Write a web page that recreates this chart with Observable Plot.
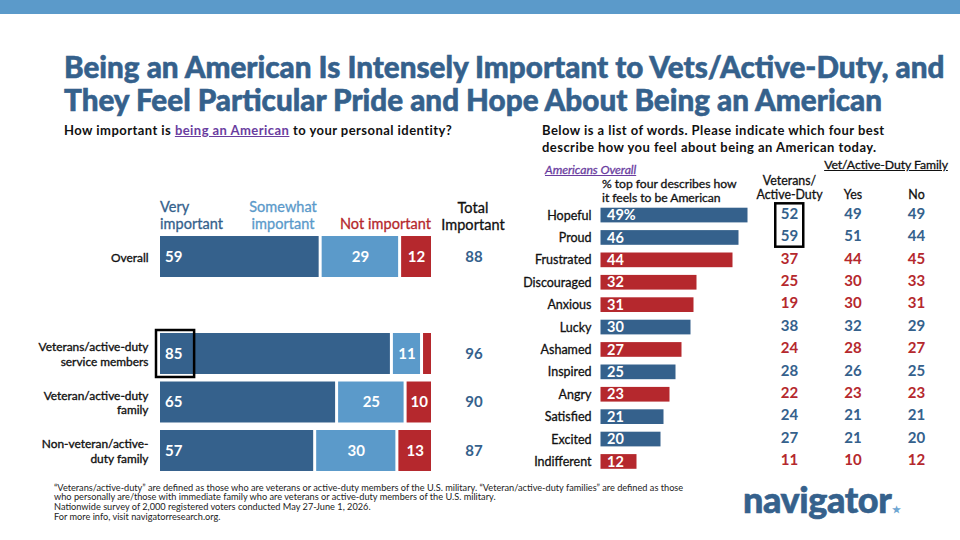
<!DOCTYPE html>
<html>
<head>
<meta charset="utf-8">
<script src="https://cdn.jsdelivr.net/npm/d3@7"></script>
<script src="https://cdn.jsdelivr.net/npm/@observablehq/plot@0.6"></script>
<style>
  html, body { margin: 0; padding: 0; width: 960px; height: 540px; background: #fff; overflow: hidden; font-family: Lato, sans-serif; }
  .a { position: absolute; white-space: nowrap; }
  .c { transform: translateX(-50%); text-align: center; }
  #bar { left: 0; top: 0; width: 960px; height: 14px; background: #5b9aca; }
  #title { left: 64px; top: 49.5px; font-size: 29.65px; line-height: 33.5px; font-weight: 900; color: #35618c; -webkit-text-stroke: .55px #35618c; }
  .q { font-size: 13px; line-height: 17px; font-weight: 700; color: #111; letter-spacing: .45px; }
  .q u { color: #6a3d9f; }
  .h { font-size: 14.5px; line-height: 17px; font-weight: 400; letter-spacing: .05px; -webkit-text-stroke: .3px; }
  .s { font-size: 12.2px; line-height: 13.5px; font-weight: 400; color: #111; letter-spacing: -.05px; -webkit-text-stroke: .3px; }
  #foot { left: 54px; top: 482.5px; font-size: 9.2px; line-height: 9.8px; color: #222; }
  #logo { left: 743px; top: 475px; font-size: 36px; line-height: 48px; font-weight: 900; color: #35618c; letter-spacing: -.4px; -webkit-text-stroke: .6px #35618c; }
  #logo span { color: #6fa6d2; font-size: 9.5px; vertical-align: 0px; margin-left: 1px; -webkit-text-stroke: 0; }
  svg { position: absolute; }
  .tbl [aria-label="x-axis tick label"] { stroke: #111; stroke-width: .3px; }
</style>
</head>
<body>
<div id="bar" class="a"></div>
<div id="title" class="a">Being an American Is Intensely Important to Vets/Active-Duty, and<br>They Feel Particular Pride and Hope About Being an American</div>
<div class="a q" style="left:64px;top:122px">How important is <u>being an American</u> to your personal identity?</div>
<div class="a q" style="left:542px;top:122px">Below is a list of words. Please indicate which four best<br>describe how you feel about being an American today.</div>

<div class="a h" style="left:160px;top:198px;color:#35618c">Very<br>important</div>
<div class="a h c" style="left:283px;top:198px;color:#5b9aca">Somewhat<br>important</div>
<div class="a h c" style="left:385.5px;top:215px;color:#b5282d">Not important</div>
<div class="a h c" style="left:473px;top:199px;color:#111">Total<br>Important</div>

<div class="a s" style="left:545px;top:163px;color:#6a3d9f;font-style:italic;text-decoration:underline">Americans Overall</div>
<div class="a s" style="left:602px;top:177px">% top four describes how<br>it feels to be American</div>
<div class="a s c" style="left:886px;top:158px;text-decoration:underline">Vet/Active-Duty Family</div>

<div id="foot" class="a">“Veterans/active-duty” are defined as those who are veterans or active-duty members of the U.S. military. “Veteran/active-duty families” are defined as those<br>who personally are/those with immediate family who are veterans or active-duty members of the U.S. military.<br>Nationwide survey of 2,000 registered voters conducted May 27-June 1, 2026.<br>For more info, visit navigatorresearch.org.</div>
<div id="logo" class="a">navigator<span>★</span></div>

<script>
// ---------- Left chart: importance of being an American ----------
const groups = ["Overall", "gap", "Veterans/active-duty\nservice members", "Veteran/active-duty\nfamily", "Non-veteran/active-\nduty family"];
const shownGroups = ["Overall", "Veterans/active-duty\nservice members", "Veteran/active-duty\nfamily", "Non-veteran/active-\nduty family"];
const veryImportant = [59, 85, 65, 57];
const somewhatImportant = [29, 11, 25, 30];
const notImportant = [12, 4, 10, 13];
const notImportantLabels = ["12", "", "10", "13"];
const totalImportant = [88, 96, 90, 87];
const segments = ["Very important", "Somewhat important", "Not important"];
const segmentColors = ["#35618c", "#5b9aca", "#b5282d"];

// ---------- Right chart: words that describe being an American ----------
const words = ["Hopeful", "Proud", "Frustrated", "Discouraged", "Anxious", "Lucky", "Ashamed", "Inspired", "Angry", "Satisfied", "Excited", "Indifferent"];
const americansOverall = [49, 46, 44, 32, 31, 30, 27, 25, 23, 21, 20, 12];
const overallLabels = ["49%", "46", "44", "32", "31", "30", "27", "25", "23", "21", "20", "12"];
const veteransActiveDuty = [52, 59, 37, 25, 19, 38, 24, 28, 22, 24, 27, 11];
const familyYes = [49, 51, 44, 30, 30, 32, 28, 26, 23, 21, 21, 10];
const familyNo = [49, 44, 45, 33, 31, 29, 27, 25, 23, 21, 20, 12];
const wordTone = ["positive", "positive", "negative", "negative", "negative", "positive", "negative", "positive", "negative", "positive", "positive", "negative"];
const columns = ["Veterans/\nActive-Duty", "Yes", "No"];

const stacked = shownGroups.flatMap((group, i) => [
  {group, segment: segments[0], value: veryImportant[i], label: ""},
  {group, segment: segments[1], value: somewhatImportant[i], label: String(somewhatImportant[i])},
  {group, segment: segments[2], value: notImportant[i], label: notImportantLabels[i]}
]);
const rows = shownGroups.map((group, i) => ({group, very: veryImportant[i], total: totalImportant[i]}));
const wordRows = words.map((word, i) => ({word, value: americansOverall[i], label: overallLabels[i], tone: wordTone[i]}));
const tableRows = words.flatMap((word, i) => [
  {word, column: columns[0], value: veteransActiveDuty[i], tone: wordTone[i]},
  {word, column: columns[1], value: familyYes[i], tone: wordTone[i]},
  {word, column: columns[2], value: familyNo[i], tone: wordTone[i]}
]);
const toneScale = {domain: ["positive", "negative"], range: ["#35618c", "#b5282d"]};
const baseStyle = {fontFamily: "Lato, sans-serif", background: "transparent", overflow: "visible"};

const left = Plot.plot({
  width: 520, height: 290,
  marginLeft: 158.5, marginRight: 87.5, marginTop: 28.5, marginBottom: 11.5,
  style: baseStyle,
  x: {domain: [0, 100], axis: null},
  y: {type: "band", domain: groups, padding: 0.155, round: false, axis: null},
  color: {domain: segments, range: segmentColors},
  marks: [
    Plot.barX(stacked, {x: "value", y: "group", fill: "segment", order: segments, insetLeft: 1.5, insetRight: 1.5}),
    Plot.text(stacked, Plot.stackX({x: "value", y: "group", z: "segment", order: segments, text: "label", fill: "white", fontSize: 15, fontWeight: 700})),
    Plot.text(rows, {x: () => 0, y: "group", text: d => String(d.very), dx: 6, textAnchor: "start", fill: "white", fontSize: 15, fontWeight: 700}),
    Plot.text(rows, {x: () => 0, y: "group", text: "group", dx: -10.5, textAnchor: "end", fill: "#111", stroke: "#111", strokeWidth: 0.35, fontSize: 11.9, fontWeight: 400, lineHeight: 1.19}),
    Plot.text(rows, {x: () => 100, y: "group", text: d => String(d.total), dx: 41, fill: "#35618c", fontSize: 15, fontWeight: 700}),
    Plot.barX([{group: shownGroups[1], span: 13}], {x: "span", y: "group", fill: "none", stroke: "black", strokeWidth: 2.5, insetLeft: -2.5, insetTop: -3, insetBottom: -3})
  ]
});
left.style.left = "0px"; left.style.top = "200px";
document.body.appendChild(left);

const right = Plot.plot({
  width: 240, height: 330,
  marginLeft: 80.5, marginRight: 9.5, marginTop: 40, marginBottom: 13.5,
  style: baseStyle,
  x: {domain: [0, 50], axis: null},
  y: {type: "band", domain: words, padding: 0.344, round: false, axis: null},
  color: toneScale,
  marks: [
    Plot.barX(wordRows, {x: "value", y: "word", fill: "tone"}),
    Plot.text(wordRows, {x: () => 0, y: "word", text: "label", dx: 6, textAnchor: "start", fill: "white", fontSize: 14.5, fontWeight: 700}),
    Plot.text(wordRows, {x: () => 0, y: "word", text: "word", dx: -9.5, textAnchor: "end", fill: "#111", stroke: "#111", strokeWidth: 0.3, fontSize: 12.5, fontWeight: 400})
  ]
});
right.style.left = "520px"; right.style.top = "160px";
document.body.appendChild(right);

const table = Plot.plot({
  width: 210, height: 330, className: "tbl",
  marginLeft: 7.25, marginRight: 12.25, marginTop: 40, marginBottom: 13.5,
  style: baseStyle,
  x: {type: "band", domain: columns, padding: 0, round: false, label: null, axis: null},
  y: {type: "band", domain: words, padding: 0.344, round: false, axis: null},
  color: toneScale,
  marks: [
    Plot.axisX({anchor: "top", tickSize: 0, tickPadding: 2, label: null, fontSize: 12.4, fontWeight: 400, lineHeight: 1.12, color: "#111"}),
    Plot.text(tableRows, {x: "column", y: "word", text: d => String(d.value), fill: "tone", dy: -1.5, fontSize: 15, fontWeight: 700}),
    Plot.rect([{column: columns[0], from: words[0], to: words[1]}], {x1: "column", x2: "column", y1: "from", y2: "to", fill: "none", stroke: "black", strokeWidth: 2.5, insetLeft: 18, insetRight: 17.5, insetTop: -4.4, insetBottom: -1.9})
  ]
});
table.style.left = "750px"; table.style.top = "160px";
document.body.appendChild(table);
</script>
</body>
</html>
